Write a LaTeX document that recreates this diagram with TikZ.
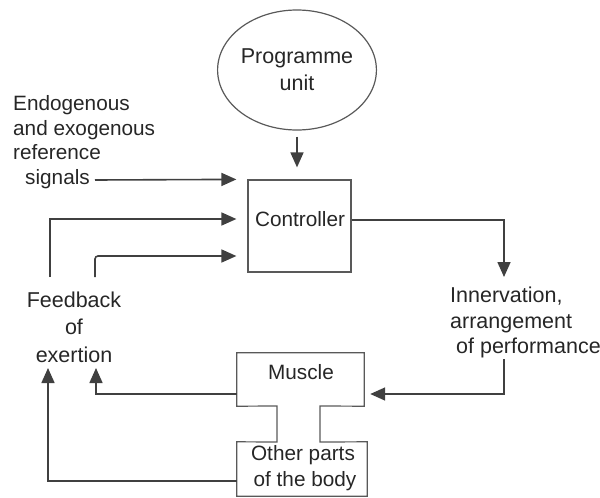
\documentclass[tikz,border=0pt]{standalone}
\usepackage{fontspec}
\setmainfont{Liberation Sans}
\usetikzlibrary{arrows.meta,shapes.geometric}
\begin{document}
\begin{tikzpicture}[x=1pt,y=-1pt,
  line/.style={draw=black!75, line width=1.6pt},
  arr/.style={line, -{Triangle[length=15pt,width=13pt]}},
  lbl/.style={font=\fontsize{20.75}{25}\selectfont, inner sep=0pt, text=black!85},
  box/.style={draw=black!65, line width=1.2pt, inner sep=0pt},
  hid/.style={draw=none, inner sep=0pt}]
\useasboundingbox (0,0) rectangle (600,498);
% Programme unit
\node[ellipse, box, lbl, minimum width=125pt, minimum height=120pt, align=center,
      font=\fontsize{21.5}{27}\selectfont] (prog) at (297,70) {Programme\\unit};
% Controller
\node[box, minimum width=103pt, minimum height=92pt] (ctrl) at (299.5,226) {};
\node[lbl] (ctrltxt) at (300,219) {Controller};
% Reference signals text
\node[lbl, align=left, anchor=west, font=\fontsize{20.75}{24.5}\selectfont] (endo) at (13,142)
  {Endogenous\\and exogenous\\reference\\\hspace{12pt}signals};
\coordinate (sigend) at (95,180);
% Feedback text
\node[lbl, align=center, font=\fontsize{21.5}{27.5}\selectfont] (fb) at (74,327) {Feedback\\of\\exertion};
\coordinate (fbA) at (50,277);
\coordinate (fbB) at (95,277);
% Innervation text
\node[lbl, align=left, anchor=north west, font=\fontsize{21.5}{25.5}\selectfont] (inn) at (450,287)
  {Innervation,\\arrangement\\\hspace{6pt}of performance};
\coordinate (innTop) at (504,277);
\coordinate (innBot) at (504,359);
% Muscle and other parts
\node[hid, minimum width=127pt, minimum height=53pt] (musbox) at (300.5,379.5) {};
\node[hid, minimum width=130pt, minimum height=54pt] (othbox) at (302,469) {};
\node[lbl] (mustxt) at (301,372) {Muscle};
\node[lbl, align=center, font=\fontsize{20.75}{26}\selectfont] (othtxt) at (303,468) {Other parts\\\hspace{4pt}of the body};
\draw[box] (musbox.north west) -- (musbox.north east) -- (musbox.south east)
  -- (320,406) -- (320,442) -- (othbox.north east) -- (othbox.south east)
  -- (othbox.south west) -- (othbox.north west) -- (277,442) -- (277,406)
  -- (musbox.south west) -- cycle;
% Connectors
\draw[arr] ([yshift=-6pt]prog.south) -- ([yshift=12pt]ctrl.north -| prog.south);
\draw[arr] (sigend) -- ([xshift=-11pt]ctrl.north west);
\draw[arr] (fbA) |- ([xshift=-11pt,yshift=7pt]ctrl.west);
\draw[arr, rounded corners=3pt] (fbB) |- ([xshift=-11pt,yshift=-30pt]ctrl.west);
\draw[arr] ([yshift=6pt]ctrl.east) -| (innTop);
\draw[arr] (innBot) |- ([xshift=6pt,yshift=-14.5pt]musbox.east);
\draw[arr] ([yshift=-14.5pt]musbox.west) -| (96,368);
\draw[arr] ([yshift=-12pt]othbox.west) -| (48,368);
\end{tikzpicture}
\end{document}
